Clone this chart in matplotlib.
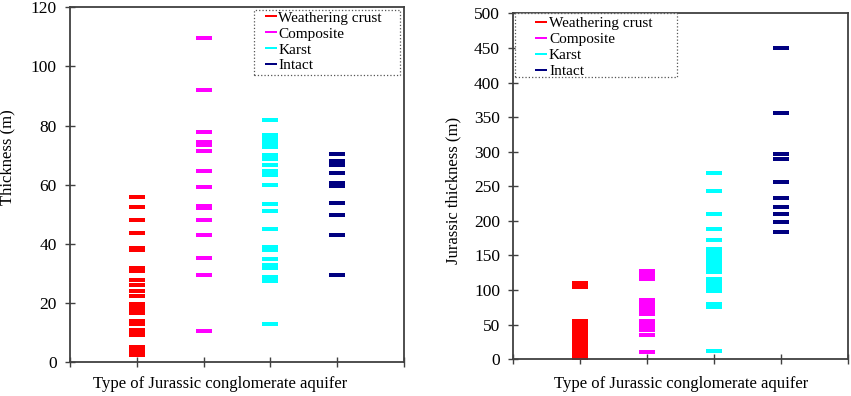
import matplotlib
matplotlib.use("Agg")
import matplotlib.pyplot as plt
from matplotlib.patches import Rectangle
import numpy as np

plt.rcParams['font.family'] = ['Liberation Serif', 'DejaVu Serif']

categories = ["Weathering crust", "Composite", "Karst", "Intact"]
colors = ["#ff0000", "#ff00ff", "#00ffff", "#000080"]

# Left panel: aquifer thickness (m)
left_weathering = [56.0, 52.4, 48.1, 43.6, 38.5, 37.8, 31.8, 30.9, 27.7, 26.3, 24.0, 22.3,
                   19.6, 18.3, 17.0, 16.6, 13.9, 12.8, 11.0, 9.8, 9.2, 5.2, 3.9, 2.6]
left_composite = [109.7, 91.9, 78.0, 74.6, 73.6, 71.4, 64.8, 59.2, 53.0, 52.2, 48.1,
                  42.9, 35.3, 29.4, 10.6]
left_karst = [82.0, 76.8, 75.4, 74.0, 72.8, 70.0, 68.8, 66.8, 64.6, 63.2, 59.8, 53.5, 51.0,
              45.1, 39.0, 37.9, 34.8, 32.8, 31.8, 28.8, 27.6, 13.1]
left_intact = [70.4, 68.0, 66.6, 63.9, 60.7, 59.6, 54.0, 49.8, 42.9, 29.4]

# Right panel: Jurassic thickness (m)
right_weathering = [110, 104, 55.5, 50, 43.5, 40, 36, 32, 28, 24, 20, 16, 12, 8, 4, 1]
right_composite = [127, 122, 116, 85, 80, 75, 70, 66, 56, 52, 47, 42, 35, 10]
right_karst = [269.7, 243.3, 209.5, 188.8, 172.9, 160, 155, 150, 145, 140, 135, 130, 126,
               116, 112, 107, 102, 98, 80, 75, 12.5]
right_intact = [449.4, 356.5, 297.0, 289.0, 256.7, 232.7, 220.6, 210.0, 198.0, 184.5]

left_series = [left_weathering, left_composite, left_karst, left_intact]
right_series = [right_weathering, right_composite, right_karst, right_intact]

dash = [(-1, -0.24), (1, -0.24), (1, 0.24), (-1, 0.24), (-1, -0.24)]

fig = plt.figure(figsize=(8.51, 3.96), dpi=100)
ax1 = fig.add_axes([0.0823, 0.085, 0.3924, 0.8966])
ax2 = fig.add_axes([0.603, 0.0927, 0.3938, 0.8737])

spine_col = "#404040"

def draw(ax, series, ymax, ystep, ylabel, xlab_pos, ylab_pos, legbox, legtext):
    handles = []
    for i, (vals, col, name) in enumerate(zip(series, colors, categories)):
        h, = ax.plot(np.full(len(vals), i + 1), vals, linestyle='none', marker=dash,
                     markersize=11.5, markerfacecolor=col, markeredgecolor='none',
                     markeredgewidth=0.0, label=name)
        handles.append(h)
    ax.set_xlim(0, 5)
    ax.set_ylim(0, ymax)
    ax.set_xticks(range(0, 6))
    ax.set_xticklabels([])
    ax.set_yticks(np.arange(0, ymax + ystep, ystep))
    ax.tick_params(axis='both', direction='inout', length=7, width=1.0, color=spine_col,
                   labelsize=12.5, pad=6)
    for s in ax.spines.values():
        s.set_color(spine_col)
        s.set_linewidth(1.3)
    ax.set_xlabel("Type of Jurassic conglomerate aquifer", fontsize=12)
    ax.xaxis.set_label_coords(*xlab_pos)
    ax.set_ylabel(ylabel, fontsize=12)
    ax.yaxis.set_label_coords(*ylab_pos)
    # legend frame (dotted box)
    x0, y0, w, hgt = legbox
    ax.add_patch(Rectangle((x0, y0), w, hgt, transform=ax.transAxes, fill=True,
                           facecolor='white', edgecolor='#555555', linestyle=':',
                           linewidth=0.9, zorder=4, clip_on=False))
    leg = ax.legend(handles=handles, loc='upper left', bbox_to_anchor=legtext, fontsize=11,
                    frameon=False, markerscale=0.75,
                    handlelength=0.7, handletextpad=0.15, labelspacing=0.15,
                    borderpad=0.0, borderaxespad=0.0, numpoints=1)
    leg.set_zorder(5)
    return leg

draw(ax1, left_series, 120, 20, "Thickness (m)", (0.45, -0.039), (-0.165, 0.577),
     (0.551, 0.809, 0.437, 0.183), (0.585, 0.99))
draw(ax2, right_series, 500, 50, "Jurassic thickness (m)", (0.5, -0.048), (-0.153, 0.488),
     (0.005, 0.816, 0.484, 0.184), (0.068, 0.99))

fig.savefig("out.png", dpi=100)
